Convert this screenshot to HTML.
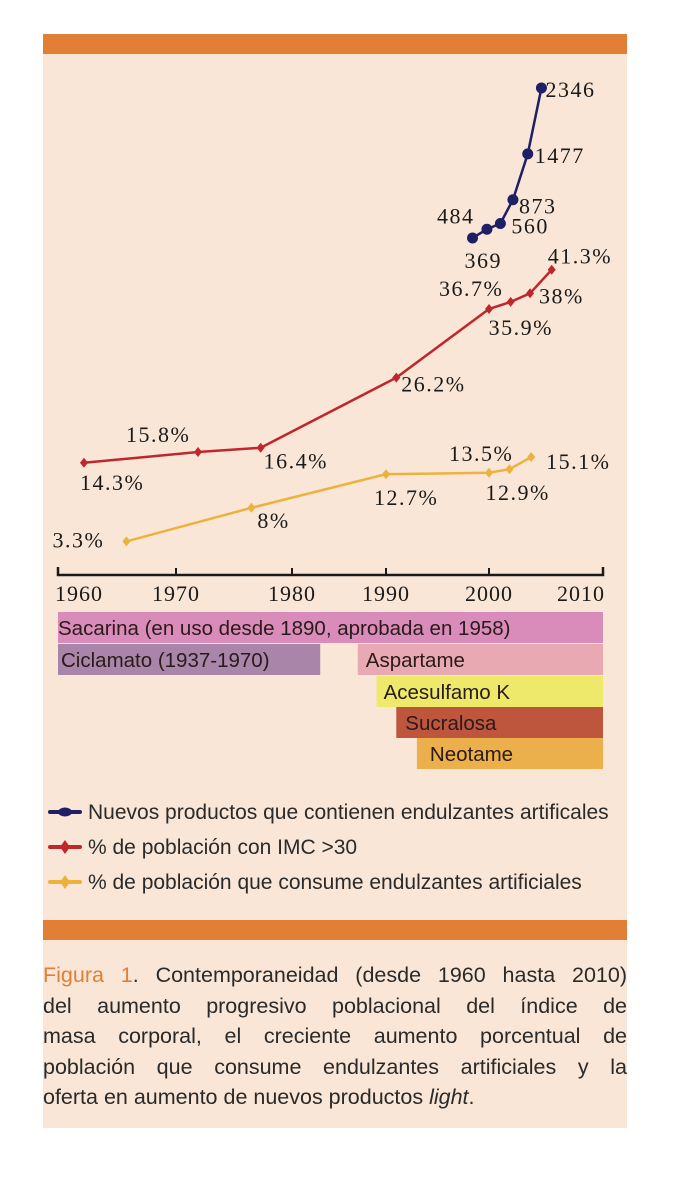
<!DOCTYPE html>
<html><head><meta charset="utf-8"><style>
body{margin:0;background:#fff;width:686px;height:1200px;position:relative;overflow:hidden;font-family:"Liberation Sans",sans-serif}
#panel{position:absolute;left:43px;top:34px;width:584px;height:1094px;background:#f9e6d6}
.ob{position:absolute;left:43px;width:584px;height:20px;background:#e07f35}
#caption{position:absolute;left:43px;top:960px;width:584px;font-size:21.5px;line-height:30.5px;color:#2a2a2a}
#caption div{text-align:justify;text-align-last:justify;white-space:nowrap}
#caption div.last{text-align-last:left}
</style></head><body>
<div id="panel"></div>
<div class="ob" style="top:34px"></div>
<div class="ob" style="top:920px"></div>
<svg id="chart" width="686" height="910" style="position:absolute;left:0;top:0"></svg>
<div id="caption">
<div><span style="color:#e07f35">Figura 1</span>. Contemporaneidad (desde 1960 hasta 2010)</div>
<div>del aumento progresivo poblacional del índice de</div>
<div>masa corporal, el creciente aumento porcentual de</div>
<div>población que consume endulzantes artificiales y la</div>
<div class="last">oferta en aumento de nuevos productos <i>light</i>.</div>
</div>
<script>
const tickYears=[1960,1970,1980,1990,2000,2010];
const blueYears=[1998.4,1999.8,2001,2002.1,2003.4,2004.6];
const blueValues=[369,484,560,873,1477,2346];
const blueLabels=["369","484","560","873","1477","2346"];
const redYears=[1962.2,1971.9,1977.3,1991,2000,2001.9,2003.6,2005.5];
const redValues=[14.3,15.8,16.4,26.2,35.8,36.8,38,41.3];
const redLabels=["14.3%","15.8%","16.4%","26.2%","36.7%","35.9%","38%","41.3%"];
const yelYears=[1965.8,1976.5,1990,2000,2001.8,2003.7];
const yelValues=[3.3,8,12.7,12.9,13.4,15.1];
const yelLabels=["3.3%","8%","12.7%","13.5%","12.9%","15.1%"];
const sweeteners=["Sacarina (en uso desde 1890, aprobada en 1958)","Ciclamato (1937-1970)","Aspartame","Acesulfamo K","Sucralosa","Neotame"];
const sweetStart=[1960,1960,1987,1989,1991,1993];
const sweetEnd=[2010,1983,2010,2010,2010,2010];

const tickPx=[58,176,292,386,489,603];
function x(y){for(let i=0;i<tickYears.length-1;i++){if(y<=tickYears[i+1]||i==tickYears.length-2){const t=(y-tickYears[i])/(tickYears[i+1]-tickYears[i]);return tickPx[i]+t*(tickPx[i+1]-tickPx[i]);}}}
function yPct(v){return 565-v*7.15;}
function yBlue(v){return 266-v*0.0759;}
const NS="http://www.w3.org/2000/svg";
const svg=document.getElementById('chart');
function mk(tag,attrs,parent){const e=document.createElementNS(NS,tag);for(const k in attrs)e.setAttribute(k,attrs[k]);(parent||svg).appendChild(e);return e;}
function txt(s,xx,yy,attrs){const t=mk('text',Object.assign({x:xx,y:yy},attrs));t.textContent=s;return t;}
const ax=mk('path',{d:`M${tickPx[0]} 567 V575 H${tickPx[5]} V567`,stroke:'#1a1a1a','stroke-width':2.5,fill:'none'});


tickYears.forEach((yr,i)=>{
 if(i>0&&i<5){const tk=mk('line',{x1:x(yr),x2:x(yr),y1:568,y2:575,stroke:'#1a1a1a','stroke-width':2});
 
 }
 const anc=i==0?'start':(i==5?'end':'middle');
 const t=txt(String(yr),x(yr)+(i==0?-3:(i==5?2:0)),601,{'font-family':'Liberation Serif, serif','font-size':22,fill:'#1a1a1a','text-anchor':anc,'letter-spacing':'1'});
 
 
});
const barColors=['#d98bba','#a985aa','#e9a9b2','#eee86b','#be563d','#ebb04b'];
const rowY=[612,644,644,676,707,738];
sweeteners.forEach((s,i)=>{
 const r=mk('rect',{x:x(sweetStart[i]),y:rowY[i],width:x(sweetEnd[i])-x(sweetStart[i]),height:31,fill:barColors[i]});
 
 
 const off=[0,3,8,7,9,13][i];
 const t=txt(s,x(sweetStart[i])+off,rowY[i]+23,{'font-size':20.5,fill:'#2a1a1a'});
 
 
});
function series(years,vals,yf,color,name,marker){
 const pts=years.map((yr,i)=>[x(yr),yf(vals[i])]);
 const l=mk('polyline',{points:pts.map(p=>p.join(',')).join(' '),fill:'none',stroke:color,'stroke-width':2.5});
 
 
 pts.forEach(p=>{let m;
  if(marker=='circle')m=mk('circle',{cx:p[0],cy:p[1],r:5.5,fill:color});
  else m=mk('path',{d:`M${p[0]} ${p[1]-5}L${p[0]+4} ${p[1]}L${p[0]} ${p[1]+5}L${p[0]-4} ${p[1]}Z`,fill:color});
  
  });
 return pts;
}
function labels(pts,labs,offs,name){
 labs.forEach((s,i)=>{const t=txt(s,pts[i][0]+offs[i][0],pts[i][1]+offs[i][1],{'font-family':'Liberation Serif, serif','font-size':22,fill:'#1a1a1a','letter-spacing':'1.5'});
 
 });
}
const pb=series(blueYears,blueValues,yBlue,'#1f1f66','new-products','circle');
labels(pb,blueLabels,[[-8,30],[-50,-6],[11,10],[6,14],[7,9],[4,9]],'new-products');
const pr=series(redYears,redValues,yPct,'#c0272d','obesity','diamond');
labels(pr,redLabels,[[-4,27],[-72,-10],[3,21],[5,14],[-50,-13],[-22,33],[9,10],[-4,-6]],'obesity');
const py=series(yelYears,yelValues,yPct,'#edb23e','sweetener-consumers','diamond');
labels(py,yelLabels,[[-74,6],[6,20],[-12,31],[-40,-12],[-24,31],[15,12]],'sweetener-consumers');
const leg=[['Nuevos productos que contienen endulzantes artificales','#1f1f66','circle'],['% de población con IMC >30','#c0272d','diamond'],['% de población que consume endulzantes artificiales','#edb23e','diamond']];
leg.forEach((e,i)=>{const yy=812+i*35;
 const g=mk('g',{});
 
 
 mk('line',{x1:50,x2:80,y1:yy,y2:yy,stroke:e[1],'stroke-width':4,'stroke-linecap':'round'},g);
 if(e[2]=='circle')mk('ellipse',{cx:65,cy:yy,rx:7,ry:4.5,fill:e[1]},g);
 else mk('path',{d:`M65 ${yy-7}L70 ${yy}L65 ${yy+7}L60 ${yy}Z`,fill:e[1]},g);
 const t=mk('text',{x:88,y:yy+7,'font-size':21,fill:'#2a2a2a'},g);t.textContent=e[0];
});
</script>
</body></html>
